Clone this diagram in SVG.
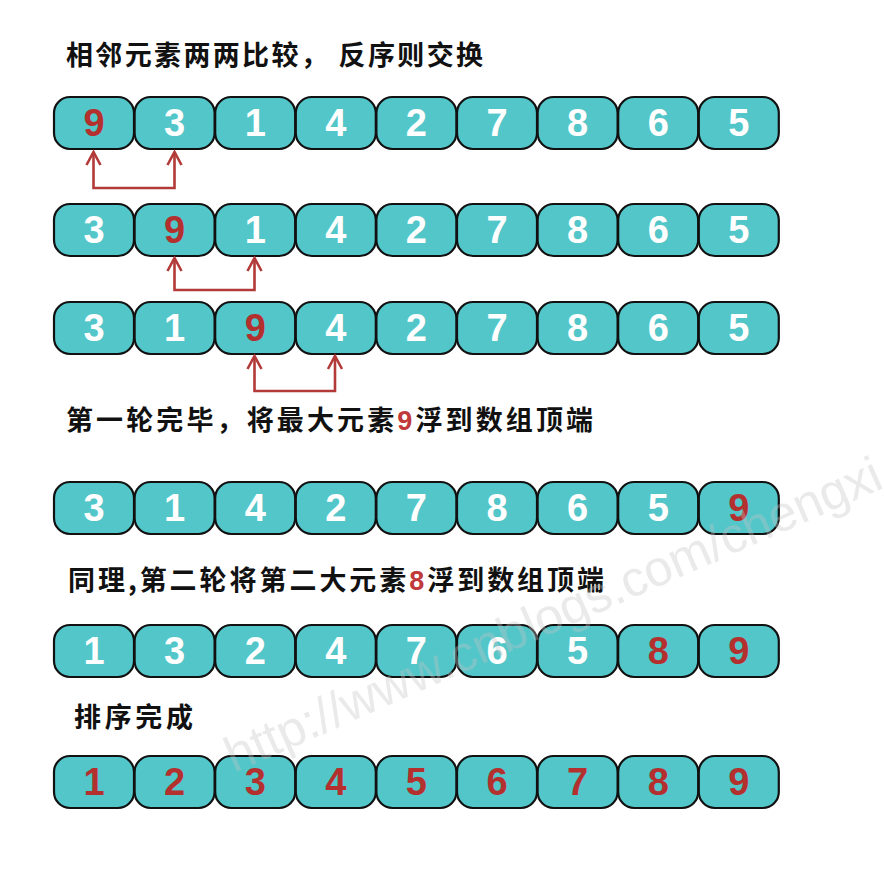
<svg xmlns="http://www.w3.org/2000/svg" width="884" height="882" viewBox="0 0 884 882">
<defs>
<style>
.box{fill:#53C6C9;stroke:#111;stroke-width:2.2}
.d{font-family:"Liberation Sans",Arial,sans-serif;font-weight:bold;font-size:38px;fill:#fff;text-anchor:middle}
.r{fill:#B3302F}
.t{font-family:"Noto Sans CJK SC","Liberation Sans",sans-serif;font-weight:bold;font-size:27px;fill:#111}
.tr{fill:#C0393B;font-family:"Liberation Sans",sans-serif}
.arr{fill:none;stroke:#B23A38;stroke-width:2.6;marker-start:url(#ah);marker-end:url(#ah)}
.wm{font-family:"Liberation Sans",Arial,sans-serif;font-size:50px;fill:#c4c4c4;opacity:0.35}
</style>
<marker id="ah" markerUnits="userSpaceOnUse" markerWidth="20" markerHeight="20" refX="0" refY="0" viewBox="-16 -10 20 20" orient="auto-start-reverse">
<path d="M-13,-7 L0,0 L-13,7" fill="none" stroke="#B23A38" stroke-width="2.6" stroke-linejoin="miter"/>
</marker>
<rect id="cell" width="80" height="52" rx="16" ry="16" class="box"/>
</defs>
<rect width="884" height="882" fill="#fff"/>

<g id="titles">
<text id="title1" class="t" x="66" y="65" textLength="417" lengthAdjust="spacing">相邻元素两两比较， 反序则交换</text>
<text id="title2" class="t" x="66" y="430" textLength="527" lengthAdjust="spacing">第一轮完毕，将最大元素<tspan class="tr">9</tspan>浮到数组顶端</text>
<text id="title3" class="t" x="68" y="590" textLength="536" lengthAdjust="spacing">同理,第二轮将第二大元素<tspan class="tr">8</tspan>浮到数组顶端</text>
<text id="title4" class="t" x="74" y="727" textLength="119" lengthAdjust="spacing">排序完成</text>
</g>

<g id="row1" transform="translate(54,97)">
<g id="r1c1"><use href="#cell" x="0"/><text class="d r" x="40" y="39">9</text></g>
<g id="r1c2"><use href="#cell" x="80.6"/><text class="d" x="120.6" y="39">3</text></g>
<g id="r1c3"><use href="#cell" x="161.2"/><text class="d" x="201.2" y="39">1</text></g>
<g id="r1c4"><use href="#cell" x="241.8"/><text class="d" x="281.8" y="39">4</text></g>
<g id="r1c5"><use href="#cell" x="322.4"/><text class="d" x="362.4" y="39">2</text></g>
<g id="r1c6"><use href="#cell" x="403"/><text class="d" x="443" y="39">7</text></g>
<g id="r1c7"><use href="#cell" x="483.6"/><text class="d" x="523.6" y="39">8</text></g>
<g id="r1c8"><use href="#cell" x="564.2"/><text class="d" x="604.2" y="39">6</text></g>
<g id="r1c9"><use href="#cell" x="644.8"/><text class="d" x="684.8" y="39">5</text></g>
</g>

<g id="row2" transform="translate(54,204)">
<g id="r2c1"><use href="#cell" x="0"/><text class="d" x="40" y="39">3</text></g>
<g id="r2c2"><use href="#cell" x="80.6"/><text class="d r" x="120.6" y="39">9</text></g>
<g id="r2c3"><use href="#cell" x="161.2"/><text class="d" x="201.2" y="39">1</text></g>
<g id="r2c4"><use href="#cell" x="241.8"/><text class="d" x="281.8" y="39">4</text></g>
<g id="r2c5"><use href="#cell" x="322.4"/><text class="d" x="362.4" y="39">2</text></g>
<g id="r2c6"><use href="#cell" x="403"/><text class="d" x="443" y="39">7</text></g>
<g id="r2c7"><use href="#cell" x="483.6"/><text class="d" x="523.6" y="39">8</text></g>
<g id="r2c8"><use href="#cell" x="564.2"/><text class="d" x="604.2" y="39">6</text></g>
<g id="r2c9"><use href="#cell" x="644.8"/><text class="d" x="684.8" y="39">5</text></g>
</g>

<g id="row3" transform="translate(54,302)">
<g id="r3c1"><use href="#cell" x="0"/><text class="d" x="40" y="39">3</text></g>
<g id="r3c2"><use href="#cell" x="80.6"/><text class="d" x="120.6" y="39">1</text></g>
<g id="r3c3"><use href="#cell" x="161.2"/><text class="d r" x="201.2" y="39">9</text></g>
<g id="r3c4"><use href="#cell" x="241.8"/><text class="d" x="281.8" y="39">4</text></g>
<g id="r3c5"><use href="#cell" x="322.4"/><text class="d" x="362.4" y="39">2</text></g>
<g id="r3c6"><use href="#cell" x="403"/><text class="d" x="443" y="39">7</text></g>
<g id="r3c7"><use href="#cell" x="483.6"/><text class="d" x="523.6" y="39">8</text></g>
<g id="r3c8"><use href="#cell" x="564.2"/><text class="d" x="604.2" y="39">6</text></g>
<g id="r3c9"><use href="#cell" x="644.8"/><text class="d" x="684.8" y="39">5</text></g>
</g>

<g id="row4" transform="translate(54,482)">
<g id="r4c1"><use href="#cell" x="0"/><text class="d" x="40" y="39">3</text></g>
<g id="r4c2"><use href="#cell" x="80.6"/><text class="d" x="120.6" y="39">1</text></g>
<g id="r4c3"><use href="#cell" x="161.2"/><text class="d" x="201.2" y="39">4</text></g>
<g id="r4c4"><use href="#cell" x="241.8"/><text class="d" x="281.8" y="39">2</text></g>
<g id="r4c5"><use href="#cell" x="322.4"/><text class="d" x="362.4" y="39">7</text></g>
<g id="r4c6"><use href="#cell" x="403"/><text class="d" x="443" y="39">8</text></g>
<g id="r4c7"><use href="#cell" x="483.6"/><text class="d" x="523.6" y="39">6</text></g>
<g id="r4c8"><use href="#cell" x="564.2"/><text class="d" x="604.2" y="39">5</text></g>
<g id="r4c9"><use href="#cell" x="644.8"/><text class="d r" x="684.8" y="39">9</text></g>
</g>

<g id="row5" transform="translate(54,625)">
<g id="r5c1"><use href="#cell" x="0"/><text class="d" x="40" y="39">1</text></g>
<g id="r5c2"><use href="#cell" x="80.6"/><text class="d" x="120.6" y="39">3</text></g>
<g id="r5c3"><use href="#cell" x="161.2"/><text class="d" x="201.2" y="39">2</text></g>
<g id="r5c4"><use href="#cell" x="241.8"/><text class="d" x="281.8" y="39">4</text></g>
<g id="r5c5"><use href="#cell" x="322.4"/><text class="d" x="362.4" y="39">7</text></g>
<g id="r5c6"><use href="#cell" x="403"/><text class="d" x="443" y="39">6</text></g>
<g id="r5c7"><use href="#cell" x="483.6"/><text class="d" x="523.6" y="39">5</text></g>
<g id="r5c8"><use href="#cell" x="564.2"/><text class="d r" x="604.2" y="39">8</text></g>
<g id="r5c9"><use href="#cell" x="644.8"/><text class="d r" x="684.8" y="39">9</text></g>
</g>

<g id="row6" transform="translate(54,756)">
<g id="r6c1"><use href="#cell" x="0"/><text class="d r" x="40" y="39">1</text></g>
<g id="r6c2"><use href="#cell" x="80.6"/><text class="d r" x="120.6" y="39">2</text></g>
<g id="r6c3"><use href="#cell" x="161.2"/><text class="d r" x="201.2" y="39">3</text></g>
<g id="r6c4"><use href="#cell" x="241.8"/><text class="d r" x="281.8" y="39">4</text></g>
<g id="r6c5"><use href="#cell" x="322.4"/><text class="d r" x="362.4" y="39">5</text></g>
<g id="r6c6"><use href="#cell" x="403"/><text class="d r" x="443" y="39">6</text></g>
<g id="r6c7"><use href="#cell" x="483.6"/><text class="d r" x="523.6" y="39">7</text></g>
<g id="r6c8"><use href="#cell" x="564.2"/><text class="d r" x="604.2" y="39">8</text></g>
<g id="r6c9"><use href="#cell" x="644.8"/><text class="d r" x="684.8" y="39">9</text></g>
</g>

<g id="connectors">
<path class="arr" d="M93.5,152 V188 H174.5 V152"/>
<path class="arr" d="M174.5,258 V290 H254.5 V258"/>
<path class="arr" d="M254.5,356 V391 H335 V356"/>
</g>

<text class="wm" transform="translate(234,773) rotate(-23.7)">http://www.cnblogs.com/chengxi</text>
</svg>
